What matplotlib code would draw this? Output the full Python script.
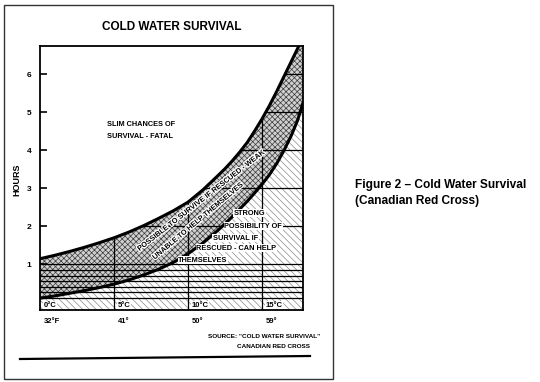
# cold water survival chart (Canadian Red Cross)
# redrawn with matplotlib

import matplotlib.pyplot as plt
from matplotlib.patches import Polygon, Rectangle
from matplotlib.lines import Line2D
import matplotlib.patheffects as pe
import numpy as np

plt.rcParams['font.family'] = ['Liberation Sans', 'DejaVu Sans']
plt.rcParams['font.weight'] = 'bold'

# data
temp_c = [0, 1, 2, 3, 4, 5, 6, 7, 8, 9, 10, 11, 12, 12.5, 13, 13.5, 14, 14.5,
          15, 15.5, 16, 16.5, 17, 17.4, 17.77]
upper_hours = [1.14, 1.23, 1.33, 1.44, 1.56, 1.69, 1.84, 2.01, 2.2, 2.4, 2.63,
               2.95, 3.32, 3.51, 3.72, 3.95, 4.2, 4.5, 4.82, 5.17, 5.55, 5.95,
               6.35, 6.67, 6.97]
lower_hours = [0.10, 0.16, 0.23, 0.30, 0.38, 0.47, 0.58, 0.71, 0.86, 1.04, 1.27,
               1.55, 1.88, 2.06, 2.25, 2.45, 2.65, 2.87, 3.1, 3.35, 3.65, 4.0,
               4.4, 4.78, 5.24]

hour_ticks = [1, 2, 3, 4, 5, 6]
small_hour_lines = [0.1, 0.26, 0.4, 0.55, 0.69, 0.84, 1.0]
celsius_marks = [0, 5, 10, 15]
celsius_labels = ['0°C', '5°C', '10°C', '15°C']
fahrenheit_labels = ['32°F', '41°', '50°', '59°']

ymin, ymax = -0.21, 6.74
xmin, xmax = 0, 17.77

fig = plt.figure(figsize=(5.4, 3.82), dpi=100)
ax = fig.add_axes([40/540, 1-310/382, 263/540, 264/382])
ax.set_xlim(xmin, xmax)
ax.set_ylim(ymin, ymax)

# shaded zones
plt.rcParams['hatch.linewidth'] = 0.5
ax.fill_between(temp_c, ymin, lower_hours, facecolor='white', edgecolor='#8a8a8a',
                hatch='\\\\\\\\\\', linewidth=0, zorder=1)
ax.fill_between(temp_c, lower_hours, upper_hours, facecolor='#d0d0d0', edgecolor='#3a3a3a',
                hatch='xxxxxx', linewidth=0, zorder=1)

# grid only below the upper curve
clip = Polygon(np.column_stack([temp_c + [xmax, xmin], upper_hours + [ymin, ymin]]),
               closed=True, facecolor='none', edgecolor='none', transform=ax.transData)
ax.add_patch(clip)
for h in small_hour_lines + hour_ticks[1:]:
    ln, = ax.plot([xmin, xmax], [h, h], color='black', lw=0.9, zorder=2)
    ln.set_clip_path(clip)
for c in celsius_marks[1:]:
    ln, = ax.plot([c, c], [ymin, ymax], color='black', lw=0.9, zorder=2)
    ln.set_clip_path(clip)

# curves
ax.plot(temp_c, upper_hours, color='black', lw=2.2, zorder=3, solid_joinstyle='round')
ax.plot(temp_c, lower_hours, color='black', lw=2.2, zorder=3, solid_joinstyle='round')

# axes
for s in ax.spines.values():
    s.set_linewidth(1.3)
    s.set_zorder(5)
ax.set_xticks([])
ax.set_yticks(hour_ticks)
ax.tick_params(axis='y', direction='in', length=5, width=1.2, labelsize=6, pad=6)

# temperature labels
for c, lc, lf in zip(celsius_marks, celsius_labels, fahrenheit_labels):
    ax.text(c + 0.25, -0.08, lc, fontsize=5.5, ha='left', va='center', zorder=4,
            bbox=dict(facecolor='white', edgecolor='none', pad=0.3))
    ax.text(c + 0.25, -0.5, lf, fontsize=5.5, ha='left', va='center', clip_on=False)

# zone labels
ax.text(4.5, 4.52, 'SLIM CHANCES OF\nSURVIVAL - FATAL', fontsize=5.3, ha='left', va='center',
        linespacing=2.0)
halo = [pe.withStroke(linewidth=1.8, foreground='white')]
ax.text(10.9, 2.66, 'POSSIBLE TO SURVIVE IF RESCUED - WEAK', fontsize=5.3, rotation=38,
        ha='center', va='center', zorder=4, path_effects=halo)
ax.text(10.68, 2.12, 'UNABLE TO HELP THEMSELVES', fontsize=5.3, rotation=40,
        ha='center', va='center', zorder=4, path_effects=halo)
box = dict(facecolor='white', edgecolor='none', pad=0.4)
ax.text(14.15, 2.34, 'STRONG', fontsize=5.3, ha='center', va='center', zorder=4, bbox=box)
ax.text(14.4, 2.0, 'POSSIBILITY OF', fontsize=5.3, ha='center', va='center', zorder=4, bbox=box)
ax.text(13.2, 1.68, 'SURVIVAL IF', fontsize=5.3, ha='center', va='center', zorder=4, bbox=box)
ax.text(13.25, 1.42, 'RESCUED - CAN HELP', fontsize=5.3, ha='center', va='center', zorder=4, bbox=box)
ax.text(11.0, 1.1, 'THEMSELVES', fontsize=5.3, ha='center', va='center', zorder=4, bbox=box)

# figure texts
fig.text(172/540, 1-27/382, 'COLD WATER SURVIVAL', fontsize=8.5, ha='center', va='center')
fig.text(17/540, 1-180/382, 'HOURS', fontsize=6.5, rotation=90, ha='center', va='center')
fig.text(208/540, 1-337/382, 'SOURCE: "COLD WATER SURVIVAL"', fontsize=4.6, ha='left', va='center')
fig.text(237/540, 1-346/382, 'CANADIAN RED CROSS', fontsize=4.6, ha='left', va='center')
fig.text(355/540, 1-185/382, 'Figure 2 – Cold Water Survival', fontsize=8.6, ha='left', va='center')
fig.text(355/540, 1-201/382, '(Canadian Red Cross)', fontsize=8.6, ha='left', va='center')

# rule under the chart and outer frame
fig.add_artist(Line2D([20/540, 310/540], [1-359/382, 1-356/382], color='black', lw=1.6))
fig.add_artist(Rectangle((4/540, 1-379/382), 329/540, 374/382, fill=False,
                         edgecolor='#333333', lw=1.0))

plt.savefig('out.png', dpi=100)
